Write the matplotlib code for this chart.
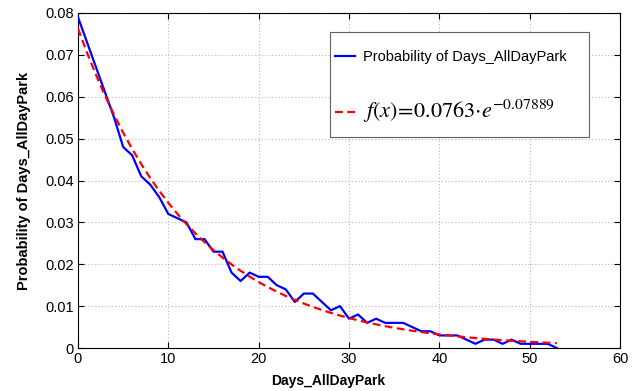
import matplotlib
matplotlib.use("Agg")
import matplotlib.pyplot as plt
import numpy as np
from matplotlib.patches import Rectangle
from matplotlib.ticker import FuncFormatter

days = list(range(0, 54))
prob = [0.079, 0.073, 0.067, 0.061, 0.055, 0.048, 0.046, 0.041, 0.039, 0.036,
        0.032, 0.031, 0.030, 0.026, 0.026, 0.023, 0.023, 0.018, 0.016, 0.018,
        0.017, 0.017, 0.015, 0.014, 0.011, 0.013, 0.013, 0.011, 0.009, 0.010,
        0.007, 0.008, 0.006, 0.007, 0.006, 0.006, 0.006, 0.005, 0.004, 0.004,
        0.003, 0.003, 0.003, 0.002, 0.001, 0.002, 0.002, 0.001, 0.002, 0.001,
        0.001, 0.001, 0.001, 0.0]

# Fitted curve parameters, as stated in the legend
fit_a = 0.0763
fit_b = 0.07889

x_ticks = [0, 10, 20, 30, 40, 50, 60]
y_ticks = [0, 0.01, 0.02, 0.03, 0.04, 0.05, 0.06, 0.07, 0.08]

plt.rcParams["font.family"] = ["Liberation Sans", "DejaVu Sans"]
plt.rcParams["mathtext.fontset"] = "stix"

fig = plt.figure(figsize=(6.42, 3.91), dpi=100)
ax = fig.add_axes([78 / 642, 1 - 348 / 391, 542 / 642, 335 / 391])

xd = np.array(days, dtype=float)
fit = fit_a * np.exp(-fit_b * xd)

ax.plot(days, prob, color="#0000ff", lw=1.6,
        label="Probability of Days_AllDayPark", zorder=3)
ax.plot(xd, fit, color="#ff0000", lw=1.6, ls=(0, (3.5, 2)),
        label=r"$f(x)\!=\!0.0763{\cdot}e^{-0.07889}$", zorder=4)

ax.set_xlim(0, 60)
ax.set_ylim(0, 0.08)
ax.set_xticks(x_ticks)
ax.set_yticks(y_ticks)
ax.yaxis.set_major_formatter(FuncFormatter(lambda v, p: "0" if v == 0 else f"{v:.2f}"))
ax.tick_params(direction="in", length=4, width=0.8, top=True, right=True,
               labelsize=10.5, pad=3)
ax.grid(True, color="#b8b8b8", ls=(0, (1, 2)), lw=0.8)
for s in ax.spines.values():
    s.set_linewidth(0.8)

ax.set_xlabel("Days_AllDayPark", fontsize=10, fontweight="bold")
ax.xaxis.set_label_coords((328 - 78) / 542, -0.1, transform=ax.transAxes)
ax.xaxis.label.set_va("center")
ax.set_ylabel("Probability of Days_AllDayPark", fontsize=10.5, fontweight="bold", labelpad=10)

# legend box frame (drawn separately so padding can differ per side)
ax.add_patch(Rectangle((0.465, 0.630), 0.478, 0.313, transform=ax.transAxes,
                       facecolor="white", edgecolor="#606060", lw=0.8, zorder=5))
leg = ax.legend(loc="upper left", bbox_to_anchor=(0.474, 0.89), fontsize=10.5,
                frameon=False, borderpad=0, labelspacing=2.3, handlelength=1.4,
                handletextpad=0.5, borderaxespad=0)
leg.set_zorder(6)
leg.get_texts()[1].set_fontsize(16)

fig.savefig("out.png", dpi=100)
